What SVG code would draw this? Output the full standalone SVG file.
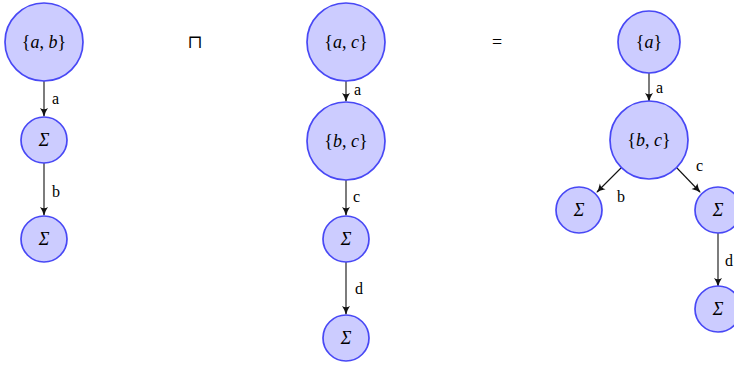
<svg xmlns="http://www.w3.org/2000/svg" width="734" height="367" viewBox="0 0 734 367" font-family="Liberation Serif, DejaVu Serif, serif">
<style>
.n{fill:#ccccff;stroke:#4848f5;stroke-width:1.7}
.t{font-size:18px;fill:#000;text-anchor:middle}
.i{font-style:italic}
.l{font-size:16px;fill:#000}
.e{stroke:#111;stroke-width:1.1;fill:none;marker-end:url(#ah)}
</style>
<defs>
<marker id="ah" viewBox="0 0 10 10" refX="9" refY="5" markerWidth="9" markerHeight="9" markerUnits="userSpaceOnUse" orient="auto">
<path d="M0,0.5 Q5,4 10,5 Q5,6 0,9.5 Q3,5 0,0.5Z" fill="#111"/>
</marker>
</defs>
<rect width="734" height="367" fill="#fff"/>
<g id="connectors">
<line class="e" x1="44" y1="81" x2="44" y2="116"/>
<line class="e" x1="44" y1="163" x2="44" y2="215"/>
<line class="e" x1="346" y1="81" x2="346" y2="101"/>
<line class="e" x1="346" y1="180" x2="346" y2="215"/>
<line class="e" x1="346" y1="262" x2="346" y2="314"/>
<line class="e" x1="649" y1="73" x2="649" y2="101"/>
<line class="e" x1="622" y1="167" x2="597" y2="192"/>
<line class="e" x1="676" y1="167" x2="700" y2="192"/>
<line class="e" x1="718" y1="233" x2="718" y2="286"/>
<text class="l" x="52" y="104">a</text>
<text class="l" x="52" y="197">b</text>
<text class="l" x="354" y="95">a</text>
<text class="l" x="353" y="202">c</text>
<text class="l" x="355" y="294">d</text>
<text class="l" x="656" y="93">a</text>
<text class="l" x="617" y="202">b</text>
<text class="l" x="696" y="171">c</text>
<text class="l" x="725" y="266">d</text>
</g>
<g id="n1"><circle class="n" cx="44" cy="42" r="39"/><text class="t" x="44" y="48">{<tspan class="i">a</tspan>, <tspan class="i">b</tspan>}</text></g>
<g id="n2"><circle class="n" cx="44" cy="140" r="23"/><text class="t i" x="44" y="146">Σ</text></g>
<g id="n3"><circle class="n" cx="44" cy="239" r="23"/><text class="t i" x="44" y="245">Σ</text></g>
<g id="op1"><text class="t" x="195" y="48">⊓</text></g>
<g id="n4"><circle class="n" cx="346" cy="42" r="39"/><text class="t" x="346" y="48">{<tspan class="i">a</tspan>, <tspan class="i">c</tspan>}</text></g>
<g id="n5"><circle class="n" cx="346" cy="141" r="39"/><text class="t" x="346" y="147">{<tspan class="i">b</tspan>, <tspan class="i">c</tspan>}</text></g>
<g id="n6"><circle class="n" cx="346" cy="239" r="23"/><text class="t i" x="346" y="245">Σ</text></g>
<g id="n7"><circle class="n" cx="346" cy="338" r="23"/><text class="t i" x="346" y="344">Σ</text></g>
<g id="op2"><text class="t" x="497" y="48">=</text></g>
<g id="n8"><circle class="n" cx="649" cy="42" r="31"/><text class="t" x="649" y="48">{<tspan class="i">a</tspan>}</text></g>
<g id="n9"><circle class="n" cx="649" cy="140" r="39"/><text class="t" x="649" y="146">{<tspan class="i">b</tspan>, <tspan class="i">c</tspan>}</text></g>
<g id="n10"><circle class="n" cx="579" cy="210" r="23"/><text class="t i" x="579" y="216">Σ</text></g>
<g id="n11"><circle class="n" cx="718" cy="210" r="23"/><text class="t i" x="718" y="216">Σ</text></g>
<g id="n12"><circle class="n" cx="718" cy="309" r="23"/><text class="t i" x="718" y="315">Σ</text></g>
</svg>
